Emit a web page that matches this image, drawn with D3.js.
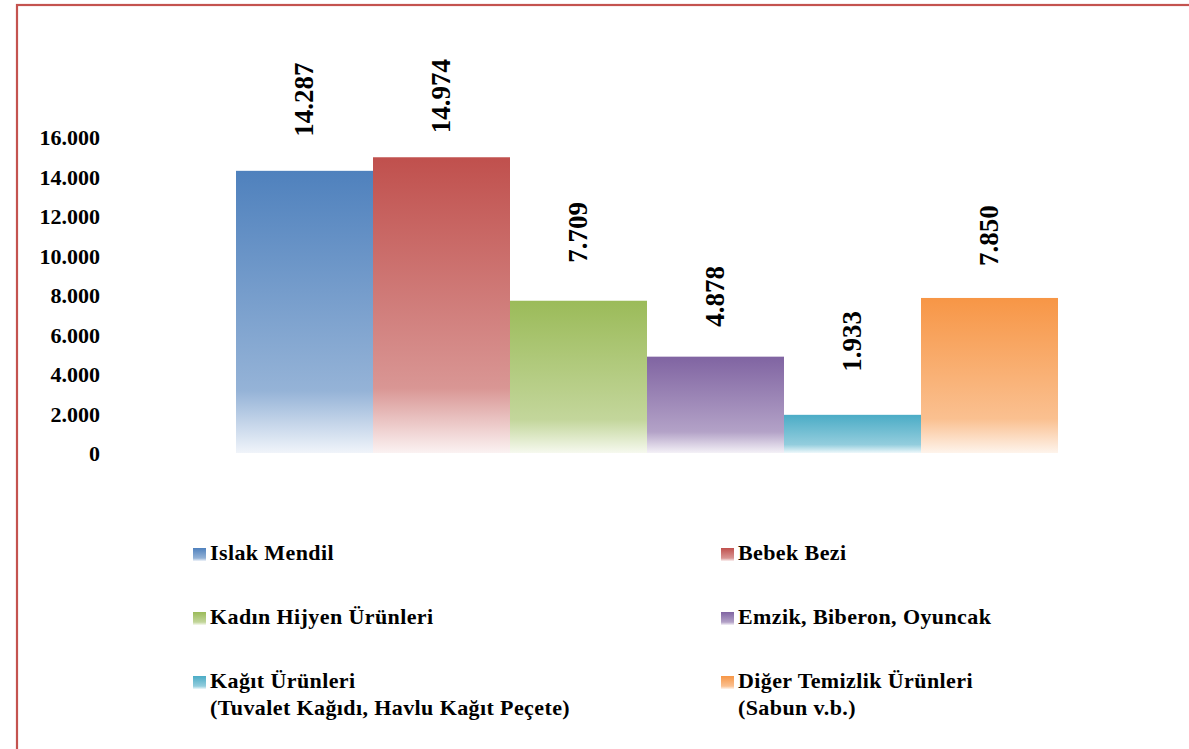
<!DOCTYPE html>
<html>
<head>
<meta charset="utf-8">
<script src="https://cdn.jsdelivr.net/npm/d3@7"></script>
</head>
<body style="margin:0;padding:0;background:#fff">
<svg id="chart" width="1189" height="749" style="display:block"></svg>
<script>
// ---- data ----
const categories = ["Islak Mendil", "Bebek Bezi", "Kadın Hijyen Ürünleri", "Emzik, Biberon, Oyuncak", "Kağıt Ürünleri", "Diğer Temizlik Ürünleri"];
const legendLines = [
  ["Islak Mendil"],
  ["Bebek Bezi"],
  ["Kadın Hijyen Ürünleri"],
  ["Emzik, Biberon, Oyuncak"],
  ["Kağıt Ürünleri", "(Tuvalet Kağıdı, Havlu Kağıt Peçete)"],
  ["Diğer Temizlik Ürünleri", "(Sabun v.b.)"]
];
const values = [14287, 14974, 7709, 4878, 1933, 7850];
const yTicks = [0, 2000, 4000, 6000, 8000, 10000, 12000, 14000, 16000];

// ---- styles ----
const FONT = '"Liberation Serif", "Times New Roman", Tinos, serif';
const baseColors = ["#4f81bd", "#c0504d", "#9bbb59", "#8064a2", "#4bacc6", "#f79646"];
const midColors  = ["#95b3d7", "#d99694", "#c3d69b", "#b3a2c7", "#93cddd", "#fac090"];
const endColors  = ["#f0f4fa", "#fbf2f2", "#f6f9ef", "#f4f1f7", "#eef8fb", "#fef4ec"];
const labelGap = [34, 24, 38, 30, 43, 32];

const tr = d3.formatLocale({decimal: ",", thousands: ".", grouping: [3], currency: ["", ""]});
const fmt = tr.format(",d");

const svg = d3.select("#chart");

function styleText(sel, size) {
  sel.style("font-family", FONT)
     .style("font-weight", "bold")
     .style("font-size", size + "px")
     .style("fill", "#000");
}

// border frame
svg.append("rect")
  .attr("x", 17).attr("y", 5)
  .attr("width", 1400).attr("height", 1000)
  .attr("fill", "none")
  .attr("stroke", "#c4534f")
  .attr("stroke-width", 2.2);

const x = d3.scaleBand().domain(categories).range([236, 1058]).padding(0);
const y = d3.scaleLinear().domain([0, 16000]).range([453, 137]);

// gradients
const defs = svg.append("defs");
categories.forEach((c, i) => {
  const g = defs.append("linearGradient")
    .attr("id", "grad" + i)
    .attr("x1", 0).attr("y1", 0).attr("x2", 0).attr("y2", 1);
  g.append("stop").attr("offset", "0%").attr("stop-color", baseColors[i]);
  g.append("stop").attr("offset", "78%").attr("stop-color", midColors[i]);
  g.append("stop").attr("offset", "100%").attr("stop-color", endColors[i]);
});

// y axis
const yAxis = d3.axisLeft(y).tickValues(yTicks).tickFormat(d => fmt(d)).tickSize(0).tickPadding(0);
const gy = svg.append("g").attr("transform", "translate(100,0)").call(yAxis);
gy.select(".domain").remove();
gy.selectAll("text").call(styleText, 22).attr("dy", "0.35em");

// bars
svg.append("g").selectAll("rect")
  .data(values)
  .join("rect")
  .attr("x", (d, i) => x(categories[i]))
  .attr("y", d => y(d))
  .attr("width", x.bandwidth())
  .attr("height", d => y(0) - y(d))
  .attr("fill", (d, i) => `url(#grad${i})`);

// value labels (rotated)
svg.append("g").selectAll("text")
  .data(values)
  .join("text")
  .attr("transform", (d, i) => {
    const cx = x(categories[i]) + x.bandwidth() / 2 - 1;
    const cy = y(d) - labelGap[i];
    return `translate(${cx},${cy}) rotate(-90)`;
  })
  .attr("text-anchor", "start")
  .attr("dy", "0.35em")
  .call(styleText, 27)
  .text(d => fmt(d));

// legend
const legCols = [193, 721];
const legRows = [560, 624, 688];
const leg = svg.append("g");
categories.forEach((c, i) => {
  const lx = legCols[i % 2];
  const ly = legRows[Math.floor(i / 2)];
  leg.append("rect")
    .attr("x", lx).attr("y", ly - 12)
    .attr("width", 13).attr("height", 13)
    .attr("fill", `url(#grad${i})`);
  const t = leg.append("text")
    .attr("x", lx + 17).attr("y", ly)
    .call(styleText, 22)
    .style("letter-spacing", "0.4px");
  legendLines[i].forEach((line, k) => {
    t.append("tspan").attr("x", lx + 17).attr("y", ly + k * 27).text(line);
  });
});
</script>
</body>
</html>
